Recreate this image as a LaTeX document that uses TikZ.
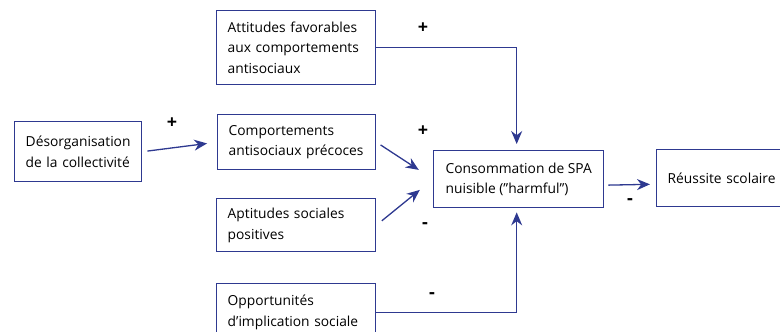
\documentclass[tikz,border=0pt]{standalone}
\usepackage{fontspec}
\setmainfont{Open Sans}
\usetikzlibrary{positioning, arrows.meta, calc}

\definecolor{bleu}{RGB}{46,57,144}

\tikzset{
  facteur/.style={draw=bleu, line width=1.4pt,
        anchor=north west, inner xsep=11pt, align=left,
        font=\fontsize{13.8}{20.5}\selectfont},
  fleche/.style={draw=bleu, line width=1.3pt,
        -{Stealth[length=13pt, width=11pt]}},
  signe/.style={font=\fontsize{18}{18}\selectfont\bfseries}
}

\begin{document}
\begin{tikzpicture}[x=1pt, y=-1pt]
\useasboundingbox (0,0) rectangle (780,332);
\clip (0,0) rectangle (780,332);

\node[facteur,
        text width=105pt,
        minimum height=60pt] (desorg) at (14,121) {Désorganisation\\de la collectivité};
\node[facteur,
        text width=137pt,
        minimum height=74pt] (attit) at (216,10) {Attitudes favorables\\aux comportements\\antisociaux};
\node[facteur,
        text width=136pt,
        minimum height=55pt] (compt) at (217,114) {Comportements\\antisociaux précoces};
\node[facteur,
        text width=137pt,
        minimum height=53pt] (aptit) at (216,198) {Aptitudes sociales\\positives};
\node[facteur,
        text width=137pt,
        minimum height=57pt] (opport) at (216,283) {Opportunités\\d’implication sociale};
\node[facteur,
        minimum width=170pt,
        minimum height=57pt] (conso) at (433,150) {Consommation de SPA\\nuisible (”harmful”)};
\node[facteur,
        text width=150pt,
        minimum height=57pt] (reuss) at (656,149) {Réussite scolaire};

\draw [fleche, shorten <=5pt, shorten >=10pt]
    (desorg.east) -- (compt.west);

\draw [fleche, shorten >=6pt]
    (attit.east) -| ([xshift=-2pt]conso.north);

\draw [fleche, shorten <=5pt, shorten >=17pt]
    (compt.east) -- (conso.west);

\draw [fleche, shorten <=7pt, shorten >=17pt]
    (aptit.east) -- (conso.west);

\draw [fleche, shorten >=4pt]
    (opport.east) -| ([xshift=-2pt]conso.south);

\draw [fleche, shorten <=4pt, shorten >=6pt]
    ([yshift=-6pt]conso.east) -- ([yshift=-6pt]reuss.west);

% signes des liens
\node[signe] (s1) at (172,123) {+};
\node[signe] (s2) at (423,28) {+};
\node[signe] (s3) at (423,131) {+};
\node[signe] (s4) at (425,226) {-};
\node[signe] (s5) at (432,296) {-};
\node[signe] (s6) at (630,202) {-};

\end{tikzpicture}
\end{document}
